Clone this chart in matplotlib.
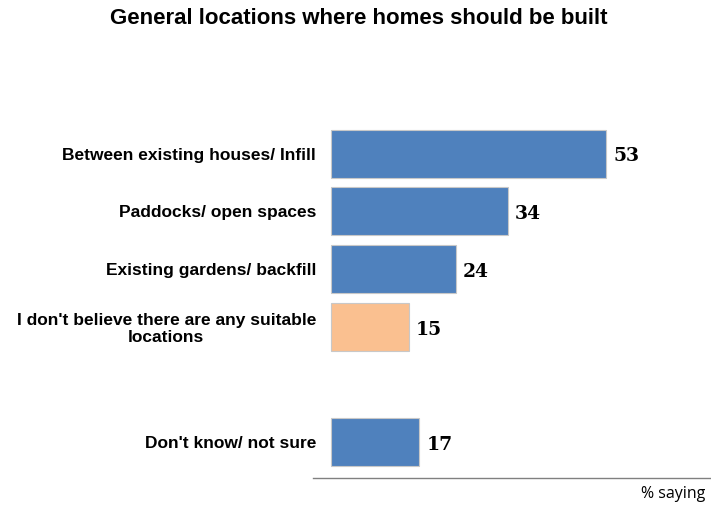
import matplotlib.pyplot as plt

# data
categories = ["Between existing houses/ Infill",
              "Paddocks/ open spaces",
              "Existing gardens/ backfill",
              "I don't believe there are any suitable\nlocations",
              "Don't know/ not sure"]
values = [53, 34, 24, 15, 17]
positions = [0, 1, 2, 3, 5]
colors = ["#4F81BD", "#4F81BD", "#4F81BD", "#FAC090", "#4F81BD"]

fig = plt.figure(figsize=(7.11, 5.05), dpi=100)
ax = fig.add_axes([313 / 711, 0.0535, 1 - 313 / 711, 0.711])

bars = ax.barh(positions, values, height=0.83, color=colors,
               edgecolor="#C8C8C8", linewidth=0.8)

ax.set_xlim(-3.5, 73.2)
ax.set_ylim(5.62, -0.6)

ax.set_yticks(positions)
ax.set_yticklabels(categories, fontsize=12.5, fontweight="bold",
                   family="Liberation Sans", multialignment="center",
                   linespacing=1.15)
ax.tick_params(axis="y", length=0, pad=-2.2)
ax.set_xticks([])

for s in ["left", "right", "top"]:
    ax.spines[s].set_visible(False)
ax.spines["bottom"].set_color("#808080")
ax.spines["bottom"].set_linewidth(1.0)

for p, v in zip(positions, values):
    ax.annotate(str(v), (v, p), xytext=(5, -2), textcoords="offset points",
                va="center", ha="left", fontsize=13.5, fontweight="bold",
                family="DejaVu Serif")

fig.text(359 / 711, 1 - 19 / 505, "General locations where homes should be built",
         ha="center", va="center", fontsize=16, fontweight="bold",
         family="Liberation Sans")
fig.text(705 / 711, 1 - 494 / 505, "% saying", ha="right", va="center",
         fontsize=11.5, family="Open Sans")

fig.savefig("out.png", dpi=100)
